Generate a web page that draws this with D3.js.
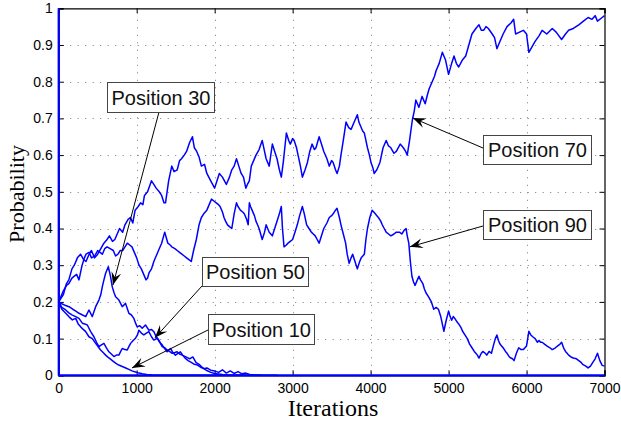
<!DOCTYPE html>
<html><head><meta charset="utf-8">
<script src="https://cdn.jsdelivr.net/npm/d3@7"></script>
<style>html,body{margin:0;padding:0;background:#fff;}svg{display:block;}</style>
</head><body>
<svg id="chart" width="621" height="421"></svg>
<script>
// ---- data: [iteration, probability] ----
const pos70 = [[0,0.20],[60,0.22],[100,0.25],[130,0.26],[170,0.29],[200,0.30],[240,0.32],[280,0.33],[320,0.315],[350,0.31],[390,0.33],[420,0.34],[460,0.32],[500,0.33],[540,0.345],[580,0.36],[620,0.37],[650,0.38],[690,0.365],[720,0.37],[760,0.39],[780,0.40],[820,0.39],[850,0.41],[890,0.425],[920,0.43],[950,0.415],[980,0.45],[1020,0.46],[1050,0.47],[1080,0.465],[1100,0.49],[1140,0.50],[1190,0.53],[1220,0.52],[1250,0.51],[1290,0.50],[1320,0.49],[1350,0.47],[1370,0.47],[1410,0.53],[1450,0.57],[1480,0.555],[1520,0.56],[1550,0.585],[1575,0.59],[1610,0.60],[1640,0.61],[1680,0.635],[1715,0.65],[1740,0.62],[1770,0.61],[1800,0.595],[1830,0.57],[1870,0.575],[1900,0.55],[1950,0.53],[2000,0.51],[2030,0.53],[2060,0.55],[2100,0.54],[2150,0.52],[2190,0.54],[2220,0.56],[2250,0.57],[2280,0.59],[2310,0.57],[2340,0.55],[2370,0.54],[2400,0.51],[2420,0.52],[2445,0.53],[2470,0.57],[2500,0.585],[2530,0.60],[2570,0.615],[2610,0.64],[2640,0.61],[2660,0.59],[2700,0.57],[2720,0.60],[2740,0.63],[2770,0.61],[2800,0.59],[2830,0.56],[2855,0.54],[2880,0.58],[2900,0.62],[2920,0.66],[2950,0.64],[2970,0.63],[3000,0.645],[3020,0.64],[3050,0.62],[3070,0.60],[3100,0.57],[3125,0.54],[3160,0.56],[3190,0.58],[3220,0.61],[3250,0.63],[3280,0.615],[3300,0.62],[3340,0.65],[3370,0.63],[3400,0.61],[3440,0.59],[3470,0.57],[3500,0.585],[3520,0.58],[3550,0.56],[3570,0.55],[3600,0.57],[3620,0.60],[3650,0.64],[3685,0.69],[3720,0.675],[3750,0.67],[3790,0.69],[3830,0.71],[3850,0.69],[3870,0.68],[3900,0.665],[3920,0.66],[3940,0.64],[3960,0.62],[3985,0.60],[4005,0.58],[4030,0.565],[4045,0.55],[4080,0.56],[4120,0.58],[4160,0.62],[4200,0.64],[4230,0.625],[4260,0.62],[4300,0.605],[4330,0.61],[4380,0.63],[4420,0.62],[4450,0.61],[4470,0.60],[4500,0.64],[4535,0.695],[4560,0.72],[4580,0.75],[4620,0.73],[4660,0.76],[4700,0.74],[4730,0.765],[4750,0.78],[4790,0.80],[4820,0.815],[4840,0.83],[4880,0.85],[4920,0.88],[4940,0.87],[4960,0.86],[5000,0.82],[5040,0.85],[5070,0.87],[5100,0.85],[5130,0.84],[5180,0.86],[5220,0.87],[5260,0.90],[5300,0.93],[5350,0.945],[5390,0.955],[5420,0.94],[5450,0.94],[5480,0.95],[5510,0.945],[5560,0.93],[5590,0.92],[5620,0.89],[5660,0.91],[5700,0.93],[5750,0.95],[5800,0.96],[5835,0.97],[5860,0.93],[5910,0.935],[5960,0.94],[6000,0.93],[6030,0.88],[6070,0.895],[6110,0.91],[6160,0.925],[6200,0.94],[6260,0.93],[6330,0.945],[6380,0.935],[6450,0.915],[6500,0.93],[6540,0.94],[6600,0.945],[6670,0.955],[6730,0.965],[6790,0.975],[6840,0.97],[6880,0.98],[6910,0.965],[6970,0.975],[7000,0.98]];

const pos90 = [[0,0.20],[60,0.23],[100,0.245],[130,0.25],[170,0.265],[200,0.27],[230,0.275],[260,0.26],[300,0.30],[330,0.32],[350,0.33],[390,0.335],[420,0.32],[460,0.325],[500,0.34],[530,0.335],[560,0.33],[590,0.345],[620,0.35],[660,0.345],[700,0.34],[730,0.325],[760,0.33],[790,0.34],[820,0.34],[850,0.35],[880,0.36],[910,0.355],[940,0.35],[970,0.335],[1000,0.32],[1030,0.30],[1060,0.29],[1090,0.275],[1120,0.26],[1140,0.265],[1160,0.28],[1190,0.29],[1220,0.31],[1250,0.325],[1280,0.34],[1320,0.36],[1360,0.39],[1380,0.375],[1400,0.36],[1430,0.355],[1450,0.35],[1490,0.345],[1520,0.34],[1550,0.335],[1580,0.33],[1610,0.325],[1640,0.32],[1670,0.315],[1700,0.31],[1730,0.34],[1765,0.37],[1800,0.41],[1830,0.43],[1860,0.44],[1900,0.45],[1930,0.465],[1960,0.48],[1990,0.475],[2020,0.47],[2050,0.465],[2070,0.46],[2100,0.445],[2120,0.43],[2140,0.42],[2165,0.41],[2190,0.405],[2220,0.40],[2250,0.44],[2280,0.47],[2300,0.46],[2330,0.45],[2360,0.445],[2380,0.44],[2410,0.425],[2430,0.41],[2445,0.47],[2460,0.46],[2480,0.45],[2510,0.435],[2530,0.42],[2550,0.41],[2570,0.40],[2590,0.385],[2610,0.37],[2640,0.39],[2660,0.41],[2680,0.40],[2700,0.39],[2720,0.385],[2740,0.38],[2770,0.40],[2800,0.42],[2830,0.44],[2855,0.46],[2870,0.40],[2890,0.35],[2920,0.355],[2940,0.36],[2970,0.365],[3000,0.37],[3030,0.39],[3060,0.41],[3090,0.435],[3125,0.46],[3150,0.44],[3180,0.41],[3210,0.40],[3240,0.39],[3265,0.385],[3290,0.38],[3315,0.37],[3340,0.36],[3370,0.38],[3400,0.40],[3440,0.415],[3470,0.43],[3500,0.435],[3520,0.44],[3550,0.45],[3570,0.455],[3600,0.43],[3620,0.41],[3650,0.385],[3680,0.36],[3700,0.33],[3725,0.305],[3750,0.32],[3770,0.33],[3800,0.31],[3830,0.29],[3860,0.31],[3880,0.32],[3900,0.325],[3920,0.33],[3940,0.37],[3960,0.40],[3990,0.43],[4020,0.45],[4040,0.445],[4060,0.44],[4080,0.435],[4100,0.43],[4130,0.42],[4150,0.41],[4175,0.40],[4200,0.39],[4230,0.385],[4260,0.38],[4300,0.385],[4330,0.39],[4370,0.39],[4400,0.385],[4430,0.395],[4455,0.40],[4470,0.38],[4490,0.36],[4510,0.31],[4530,0.27],[4550,0.255],[4570,0.245],[4600,0.26],[4620,0.27],[4640,0.26],[4670,0.25],[4690,0.235],[4710,0.225],[4740,0.215],[4780,0.20],[4810,0.18],[4840,0.185],[4870,0.18],[4900,0.16],[4920,0.14],[4940,0.12],[4970,0.15],[5000,0.175],[5020,0.16],[5040,0.15],[5060,0.16],[5080,0.155],[5110,0.145],[5130,0.14],[5160,0.13],[5180,0.12],[5210,0.11],[5240,0.10],[5270,0.085],[5300,0.075],[5330,0.065],[5350,0.06],[5370,0.055],[5390,0.047],[5420,0.06],[5440,0.065],[5470,0.06],[5490,0.055],[5520,0.065],[5550,0.06],[5580,0.085],[5600,0.10],[5620,0.11],[5640,0.095],[5660,0.085],[5680,0.08],[5700,0.075],[5730,0.065],[5750,0.06],[5780,0.05],[5800,0.047],[5820,0.045],[5840,0.04],[5870,0.06],[5900,0.075],[5930,0.07],[5960,0.07],[5980,0.075],[6000,0.08],[6015,0.10],[6030,0.12],[6055,0.11],[6080,0.105],[6110,0.10],[6140,0.09],[6160,0.095],[6180,0.09],[6200,0.09],[6230,0.085],[6260,0.08],[6300,0.075],[6330,0.07],[6370,0.075],[6400,0.08],[6430,0.085],[6450,0.09],[6475,0.075],[6500,0.065],[6520,0.06],[6540,0.055],[6570,0.05],[6600,0.047],[6640,0.045],[6670,0.04],[6700,0.035],[6720,0.03],[6760,0.025],[6790,0.02],[6820,0.025],[6850,0.035],[6880,0.045],[6910,0.06],[6940,0.04],[6970,0.027],[7000,0.025]];

const pos30 = [[0,0.20],[40,0.195],[90,0.19],[132,0.187],[180,0.18],[220,0.175],[260,0.169],[300,0.165],[346,0.16],[388,0.178],[431,0.16],[474,0.187],[516,0.205],[540,0.22],[559,0.241],[580,0.26],[602,0.278],[636,0.296],[665,0.269],[687,0.241],[710,0.225],[730,0.214],[772,0.205],[815,0.187],[857,0.196],[900,0.169],[930,0.165],[964,0.155],[990,0.14],[1007,0.132],[1040,0.135],[1071,0.128],[1113,0.137],[1156,0.123],[1190,0.125],[1220,0.119],[1250,0.105],[1284,0.096],[1310,0.085],[1327,0.078],[1360,0.075],[1391,0.069],[1420,0.065],[1455,0.06],[1490,0.062],[1519,0.064],[1550,0.058],[1583,0.055],[1625,0.051],[1650,0.048],[1680,0.045],[1720,0.05],[1760,0.035],[1800,0.03],[1850,0.02],[1900,0.013],[1950,0.008],[2000,0.005],[2100,0.002],[2200,0.001],[2400,0]];

const pos50 = [[0,0.20],[40,0.185],[90,0.178],[130,0.17],[175,0.164],[218,0.16],[260,0.155],[303,0.142],[335,0.14],[367,0.137],[410,0.119],[452,0.105],[485,0.09],[516,0.078],[548,0.083],[580,0.087],[612,0.075],[644,0.064],[675,0.058],[708,0.051],[740,0.055],[772,0.055],[795,0.065],[815,0.073],[850,0.07],[879,0.069],[900,0.078],[922,0.087],[955,0.095],[985,0.101],[1010,0.11],[1028,0.123],[1060,0.115],[1092,0.11],[1125,0.115],[1156,0.119],[1190,0.105],[1220,0.096],[1263,0.101],[1295,0.09],[1327,0.083],[1360,0.072],[1391,0.064],[1434,0.073],[1465,0.062],[1497,0.055],[1530,0.06],[1561,0.064],[1590,0.055],[1625,0.046],[1660,0.04],[1700,0.035],[1740,0.03],[1780,0.028],[1820,0.022],[1860,0.018],[1900,0.02],[1950,0.014],[2000,0.012],[2050,0.008],[2100,0.015],[2150,0.006],[2200,0.012],[2250,0.005],[2300,0.01],[2350,0.004],[2400,0.006],[2450,0.002],[2500,0.001],[2600,0]];

const pos10 = [[0,0.20],[40,0.18],[90,0.169],[130,0.16],[175,0.151],[218,0.155],[250,0.14],[282,0.132],[315,0.125],[346,0.119],[388,0.105],[431,0.10],[474,0.087],[505,0.078],[538,0.069],[570,0.062],[602,0.055],[635,0.049],[665,0.044],[700,0.038],[730,0.033],[770,0.028],[815,0.024],[860,0.02],[900,0.016],[940,0.012],[985,0.009],[1030,0.006],[1071,0.004],[1130,0.002],[1200,0.001],[1300,0.0003],[1400,0],[2800,0]];

const posOther = [[0,1],[1,0],[7000,0]];

const series = [posOther, pos10, pos50, pos30, pos90, pos70];

const xTicks = [0,1000,2000,3000,4000,5000,6000,7000];
const yTicks = [0,0.1,0.2,0.3,0.4,0.5,0.6,0.7,0.8,0.9,1];

// annotations: label text and arrow tip (data coords)
const labels = ["Position 30","Position 50","Position 10","Position 70","Position 90"];
const tips = [[696,0.246],[1234,0.102],[940,0.02],[4542,0.701],[4504,0.35]];

// ---- layout ----
const svg = d3.select("#chart");
const x = d3.scaleLinear().domain([0,7000]).range([58.7,604.5]);
const y = d3.scaleLinear().domain([0,1]).range([375.3,8.3]);

// grid
const grid = svg.append("g").attr("stroke","#7a7a7a").attr("stroke-width",1).attr("stroke-dasharray","1,6.5");
xTicks.slice(1,-1).forEach(t=>grid.append("line").attr("x1",Math.round(x(t))+0.5).attr("x2",Math.round(x(t))+0.5).attr("y1",y(1)+4).attr("y2",y(0)));
yTicks.slice(1,-1).forEach(t=>grid.append("line").attr("y1",Math.round(y(t))+0.5).attr("y2",Math.round(y(t))+0.5).attr("x1",x(0)+4).attr("x2",x(7000)));

// axes with inward ticks
const fmtY = d => d===0?"0":(d===1?"1":d3.format(".1f")(d));
const axB = svg.append("g").attr("transform",`translate(0,${y(0)})`).call(d3.axisBottom(x).tickValues(xTicks).tickSize(-5).tickPadding(8).tickFormat(d3.format("d")));
const axT = svg.append("g").attr("transform",`translate(0,${y(1)})`).call(d3.axisTop(x).tickValues(xTicks).tickSize(-5).tickFormat(""));
const axL = svg.append("g").attr("transform",`translate(${x(0)},0)`).call(d3.axisLeft(y).tickValues(yTicks).tickSize(-5).tickPadding(6).tickFormat(fmtY));
const axR = svg.append("g").attr("transform",`translate(${x(7000)},0)`).call(d3.axisRight(y).tickValues(yTicks).tickSize(-5).tickFormat(""));
[axB,axT,axL,axR].forEach(a=>{
  a.selectAll(".domain").attr("stroke","#000").attr("stroke-width",1.2);
  a.selectAll(".tick line").attr("stroke","#000");
  a.selectAll("text").attr("font-family","'Liberation Sans',Arial,sans-serif").attr("font-size",14).attr("fill","#000");
});

// lines
const line = d3.line().x(d=>x(d[0])).y(d=>y(d[1]));
svg.append("g").selectAll("path").data(series).join("path")
  .attr("d",line).attr("fill","none").attr("stroke","#0000ff")
  .attr("stroke-width",(d,i)=>i===0?2.2:1.5).attr("stroke-linejoin","round");

// axis titles
svg.append("text").attr("x",333).attr("y",416).attr("text-anchor","middle")
  .attr("font-family","'Liberation Serif','Times New Roman',serif").attr("font-size",24).text("Iterations");
svg.append("text").attr("transform","translate(24,194) rotate(-90)").attr("text-anchor","middle")
  .attr("font-family","'Liberation Serif','Times New Roman',serif").attr("font-size",22).text("Probability");

// annotation boxes (pixel layout) and arrow start points
const boxes = [[107,82,107,30],[202,257,106,29],[208,314,106,30],[483,135,108,29],[483,210,108,29]];
const starts = [[159,112],[202,286],[208,330],[483,148],[483,226]];
const ann = svg.append("g");
labels.forEach((lab,i)=>{
  const [tx,ty] = [x(tips[i][0]), y(tips[i][1])];
  const [sx,sy] = starts[i];
  ann.append("line").attr("x1",sx).attr("y1",sy).attr("x2",tx).attr("y2",ty).attr("stroke","#000").attr("stroke-width",1);
  const ang = Math.atan2(ty-sy, tx-sx);
  const L=13, W=5;
  const pts = [[0,0],[-L,-W],[-0.62*L,0],[-L,W]].map(([a,b])=>[tx + a*Math.cos(ang) - b*Math.sin(ang), ty + a*Math.sin(ang) + b*Math.cos(ang)]);
  ann.append("polygon").attr("points",pts.map(p=>p.join(",")).join(" ")).attr("fill","#000");
  const [bx,by,bw,bh] = boxes[i];
  ann.append("rect").attr("x",bx+0.5).attr("y",by+0.5).attr("width",bw).attr("height",bh).attr("fill","#fff").attr("stroke","#444").attr("stroke-width",1);
  ann.append("text").attr("x",bx+bw/2+0.5).attr("y",by+bh/2+7.5).attr("text-anchor","middle")
    .attr("font-family","'Liberation Sans',Arial,sans-serif").attr("font-size",20).attr("fill","#111").text(lab);
});
</script>
</body></html>
